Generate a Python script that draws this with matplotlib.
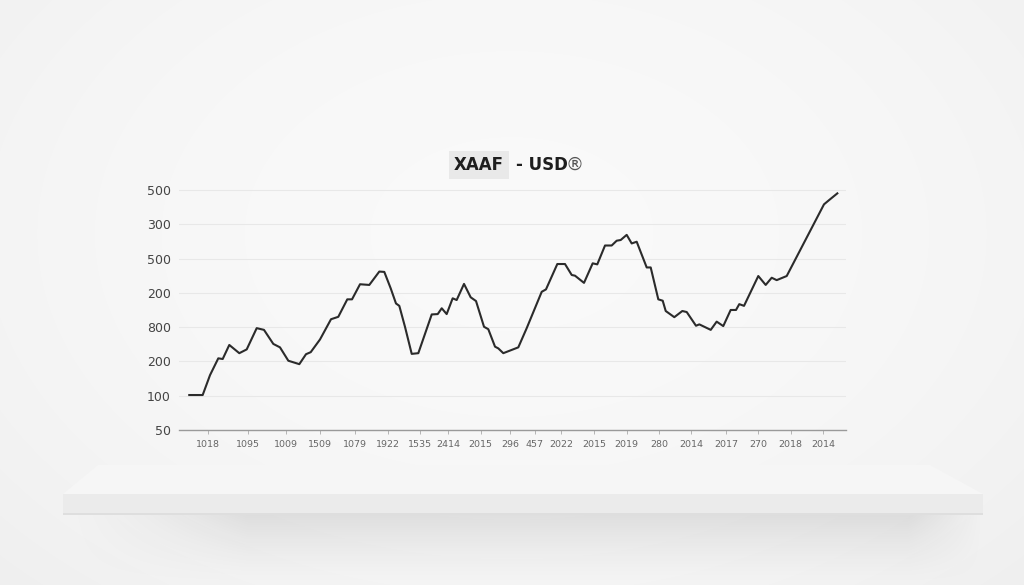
import matplotlib.pyplot as plt
import numpy as np
from matplotlib.patches import Polygon, Rectangle

# dados (eixo y em posicoes de tick 0..7)
t = [1.54, 3.55, 4.65, 5.89, 6.55, 7.54, 9.04, 10.15, 11.65, 12.74, 14.14, 15.14,
     16.39, 18.04, 19.04, 19.75, 21.14, 22.79, 23.88, 25.23, 25.94, 27.14, 28.53,
     30.03, 30.78, 31.74, 32.53, 33.03, 33.88, 34.89, 35.88, 37.89, 38.79, 39.39,
     40.13, 41.03, 41.63, 42.73, 43.73, 44.53, 45.73, 46.37, 47.38, 47.87, 48.62,
     50.87, 52.13, 54.38, 55.02, 56.72, 57.87, 58.88, 59.37, 60.72, 62.02, 62.71,
     63.87, 64.87, 65.62, 66.22, 67.12, 67.87, 68.62, 70.12, 70.72, 71.86, 72.52,
     72.97, 74.26, 75.46, 76.12, 77.51, 78.01, 79.72, 80.61, 81.60, 82.71, 83.51,
     84.00, 84.71, 86.85, 87.96, 88.86, 89.61, 91.11, 96.70, 97.50, 98.70]
valores = [1.02, 1.02, 1.60, 2.09, 2.07, 2.48, 2.24, 2.35, 2.97, 2.92, 2.51, 2.41,
           2.02, 1.92, 2.21, 2.27, 2.64, 3.23, 3.30, 3.81, 3.81, 4.25, 4.23,
           4.62, 4.61, 4.13, 3.69, 3.62, 3.01, 2.22, 2.24, 3.37, 3.38, 3.55,
           3.38, 3.84, 3.79, 4.26, 3.87, 3.76, 3.01, 2.94, 2.43, 2.38, 2.24,
           2.41, 2.97, 4.03, 4.10, 4.84, 4.84, 4.52, 4.50, 4.29, 4.86, 4.83,
           5.38, 5.38, 5.52, 5.54, 5.69, 5.44, 5.49, 4.74, 4.74, 3.81, 3.77,
           3.47, 3.29, 3.47, 3.44, 3.04, 3.08, 2.92, 3.16, 3.03, 3.50, 3.50,
           3.67, 3.62, 4.49, 4.23, 4.44, 4.37, 4.49, 6.58, 6.71, 6.90]

xticks_pos = [4.39, 10.30, 16.00, 21.14, 26.39, 31.38, 36.13, 40.37, 45.23, 49.63,
              53.37, 57.27, 62.26, 67.12, 72.01, 76.76, 82.01, 86.85, 91.71, 96.60]
xticks_lab = ['1018', '1095', '1009', '1509', '1079', '1922', '1535', '2414', '2015', '296',
              '457', '2022', '2015', '2019', '280', '2014', '2017', '270', '2018', '2014']
yticks_lab = ['50', '100', '200', '800', '200', '500', '300', '500']

fig = plt.figure(figsize=(10.24, 5.85), dpi=100)
W, H = 1024, 585

# fundo com gradiente suave
bg = fig.add_axes([0, 0, 1, 1], zorder=-10)
yy, xx = np.mgrid[0:1:585j, 0:1:1024j]
d2 = ((xx - 0.5) / 0.75) ** 2 + ((yy - 0.4) / 0.9) ** 2
img = np.clip(0.978 - 0.045 * d2, 0, 1)
bg.imshow(np.dstack([img] * 3), extent=[0, 1, 1, 0], aspect='auto', interpolation='bilinear')
bg.set_xlim(0, 1)
bg.set_ylim(1, 0)
bg.axis('off')

def fx(px):
    return px / W

def fy(py):
    return 1 - py / H

# sombra debaixo da prateleira
sombra = fig.add_axes([fx(63), fy(585), fx(983) - fx(63), fy(514) - fy(585)], zorder=-9)
sy, sx = np.mgrid[0:1:100j, 0:1:400j]
janela = np.clip(sx / 0.2, 0, 1) ** 1.5 * np.clip((1 - sx) / 0.08, 0, 1)
alpha_s = (1 - sy) ** 1.4 * janela
sh = np.zeros((100, 400, 4))
sh[..., :3] = 0.5
sh[..., 3] = 0.2 * alpha_s
sombra.imshow(sh, extent=[0, 1, 1, 0], aspect='auto', interpolation='bilinear')
sombra.axis('off')

topo = Polygon([(fx(98), fy(465)), (fx(930), fy(465)), (fx(983), fy(494)), (fx(63), fy(494))],
               closed=True, transform=fig.transFigure, facecolor='#f6f6f6', edgecolor='none', zorder=-8)
frente = Rectangle((fx(63), fy(515)), fx(983) - fx(63), fy(494) - fy(515),
                   transform=fig.transFigure, facecolor='#ebebeb', edgecolor='none', zorder=-8)
aresta = Rectangle((fx(63), fy(515)), fx(983) - fx(63), fy(513) - fy(515),
                   transform=fig.transFigure, facecolor='#dedede', edgecolor='none', zorder=-8)
fig.patches.extend([topo, frente, aresta])

# grafico
ax = fig.add_axes([fx(179), fy(430), fx(846) - fx(179), fy(180) - fy(430)])
ax.patch.set_alpha(0)
ax.plot(t, valores, color='#2b2b2b', linewidth=1.5)
ax.set_xlim(0, 100)
ax.set_ylim(0, 7.29)
ax.set_yticks(range(8))
ax.set_yticklabels(yticks_lab, fontsize=9, color='#444444')
ax.set_xticks(xticks_pos)
ax.set_xticklabels(xticks_lab, fontsize=6.8, color='#666666')
ax.tick_params(axis='y', length=0, pad=6)
ax.tick_params(axis='x', length=3, width=0.6, color='#aaaaaa', pad=4)
ax.grid(axis='y', color='#e8e8e8', linewidth=0.8)
for s in ['top', 'right', 'left']:
    ax.spines[s].set_visible(False)
ax.spines['bottom'].set_color('#9a9a9a')
ax.spines['bottom'].set_linewidth(1.0)

# titulo
fig.text(fx(504), fy(165), 'XAAF', ha='right', va='center', fontsize=12, fontweight='bold',
         color='#1e1e1e', bbox=dict(boxstyle='square,pad=0.3', facecolor='#e9e9e9', edgecolor='none'))
fig.text(fx(516), fy(165), '- USD', ha='left', va='center', fontsize=12, fontweight='bold',
         color='#1e1e1e')
fig.text(fx(566), fy(165), '®', ha='left', va='center', fontsize=13, color='#555555')

fig.savefig('out.png', dpi=100)
